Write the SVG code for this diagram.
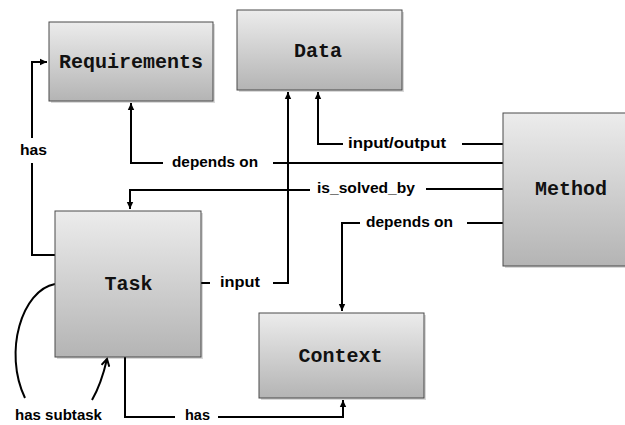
<svg xmlns="http://www.w3.org/2000/svg" width="625" height="425" viewBox="0 0 625 425">
<defs>
<linearGradient id="g" x1="0" y1="0" x2="0" y2="1">
<stop offset="0" stop-color="#ececec"/>
<stop offset="1" stop-color="#b4b4b4"/>
</linearGradient>
<marker id="ah" markerWidth="8" markerHeight="8" refX="7" refY="4" orient="auto" markerUnits="userSpaceOnUse">
<path d="M0,0.8 L7,4 L0,7.2 Z" fill="#000"/>
</marker>
<marker id="chev" markerWidth="10" markerHeight="10" refX="8" refY="5" orient="auto" markerUnits="userSpaceOnUse">
<path d="M1,1 L8,5 L1,9" fill="none" stroke="#000" stroke-width="2"/>
</marker>
</defs>
<style>
.box{fill:url(#g);stroke:#4a4a4a;stroke-width:1}
.sh{fill:#000;opacity:0.15}
.nl{font-family:"Liberation Mono","Courier New",monospace;font-weight:bold;font-size:20px;fill:#111;text-anchor:middle}
.lb{font-family:"Liberation Sans",Arial,sans-serif;font-weight:bold;font-size:15px;fill:#000}
.c{fill:none;stroke:#000;stroke-width:2}
</style>
<rect width="625" height="425" fill="#fff"/>
<g id="connectors">
<path class="c" d="M55,255 H32 V163"/>
<path class="c" d="M32,138 V62 H47" marker-end="url(#ah)"/>
<path class="c" d="M504,163 H273"/>
<path class="c" d="M163,163 H131 V103" marker-end="url(#ah)"/>
<path class="c" d="M504,144 H462"/>
<path class="c" d="M343,144 H318 V92" marker-end="url(#ah)"/>
<path class="c" d="M504,189 H426"/>
<path class="c" d="M310,190 H130 V209" marker-end="url(#ah)"/>
<path class="c" d="M201,283 H210"/>
<path class="c" d="M273,283 H288 V92" marker-end="url(#ah)"/>
<path class="c" d="M504,223 H467"/>
<path class="c" d="M360,223 H342 V311" marker-end="url(#ah)"/>
<path class="c" d="M125,357 V417 H175"/>
<path class="c" d="M218,417 H343 V400" marker-end="url(#ah)"/>
<path class="c" d="M55,284 C22,290 3,352 25,398"/>
<path class="c" d="M92,400 C99,388 104,372 107,359" marker-end="url(#chev)"/>
<text class="lb" x="20" y="155" textLength="27" lengthAdjust="spacingAndGlyphs">has</text>
<text class="lb" x="172" y="167" textLength="86" lengthAdjust="spacingAndGlyphs">depends on</text>
<text class="lb" x="348" y="148" textLength="98" lengthAdjust="spacingAndGlyphs">input/output</text>
<text class="lb" x="317" y="193" textLength="98" lengthAdjust="spacingAndGlyphs">is_solved_by</text>
<text class="lb" x="366" y="227" textLength="87" lengthAdjust="spacingAndGlyphs">depends on</text>
<text class="lb" x="220" y="287" textLength="40" lengthAdjust="spacingAndGlyphs">input</text>
<text class="lb" x="185" y="420" textLength="25" lengthAdjust="spacingAndGlyphs">has</text>
<text class="lb" x="15" y="420" textLength="87" lengthAdjust="spacingAndGlyphs">has subtask</text>
</g>
<g id="requirements">
<rect class="sh" x="51" y="24" width="164" height="79"/>
<rect class="box" x="49" y="22" width="164" height="79"/>
<text class="nl" x="131" y="68">Requirements</text>
</g>
<g id="data">
<rect class="sh" x="239" y="12" width="165" height="80"/>
<rect class="box" x="237" y="10" width="165" height="80"/>
<text class="nl" x="318" y="57">Data</text>
</g>
<g id="method">
<rect class="sh" x="505" y="115" width="140" height="153"/>
<rect class="box" x="503" y="113" width="140" height="153"/>
<text class="nl" x="571" y="195">Method</text>
</g>
<g id="task">
<rect class="sh" x="57" y="213" width="146" height="146"/>
<rect class="box" x="55" y="211" width="146" height="146"/>
<text class="nl" x="128.5" y="290">Task</text>
</g>
<g id="context">
<rect class="sh" x="261" y="315" width="165" height="85"/>
<rect class="box" x="259" y="313" width="165" height="85"/>
<text class="nl" x="340.5" y="362">Context</text>
</g>
</svg>
